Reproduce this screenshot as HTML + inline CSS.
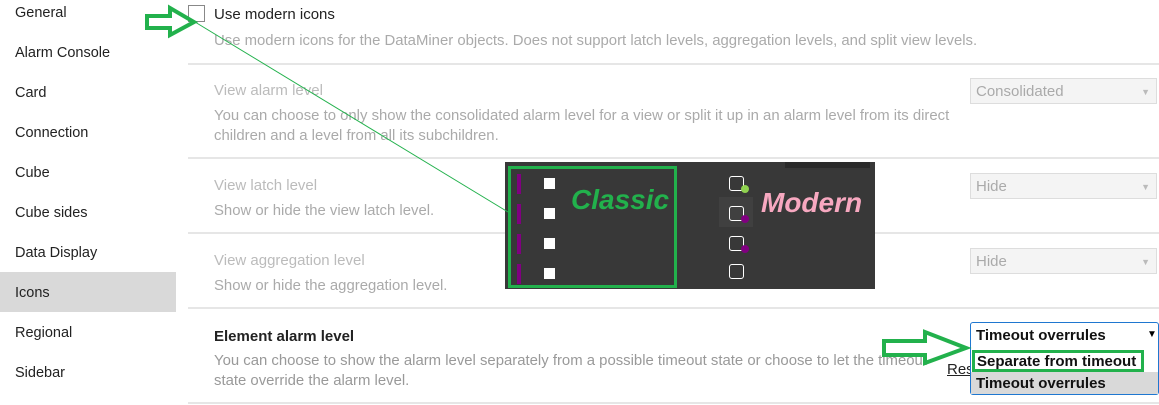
<!DOCTYPE html><html><head><style>
body{margin:0;width:1159px;height:405px;position:relative;overflow:hidden;background:#fff;font-family:"Liberation Sans",sans-serif;}
.a{position:absolute;white-space:nowrap}
.nav{left:15px;font-size:14.5px;color:#222}
.sep{position:absolute;left:188px;width:971px;height:2px;background:#e6e6e6}
.t{font-size:15px;color:#bbb}
.d{font-size:14.9px;color:#aaa;line-height:20px}
.dd{position:absolute;left:970px;width:187px;height:26px;border:1px solid #ddd;background:#f4f4f4;color:#aaa;font-size:15px;line-height:26px;padding-left:5px;box-sizing:border-box}
.dd:after{content:"▼";position:absolute;right:6px;font-size:9px;color:#bbb}
</style></head><body>
<div class="a" style="left:0;top:272px;width:176px;height:40px;background:#d9d9d9"></div>
<div class="a nav" style="top:5px">General</div>
<div class="a nav" style="top:45px">Alarm Console</div>
<div class="a nav" style="top:85px">Card</div>
<div class="a nav" style="top:125px">Connection</div>
<div class="a nav" style="top:165px">Cube</div>
<div class="a nav" style="top:205px">Cube sides</div>
<div class="a nav" style="top:245px">Data Display</div>
<div class="a nav" style="top:285px">Icons</div>
<div class="a nav" style="top:325px">Regional</div>
<div class="a nav" style="top:365px">Sidebar</div>

<div class="a" style="left:188px;top:5px;width:17px;height:17px;border:1px solid #888;box-sizing:border-box;background:#fff"></div>
<div class="a" style="left:214px;top:6px;font-size:15px;color:#222">Use modern icons</div>
<div class="a d" style="left:214px;top:31px">Use modern icons for the DataMiner objects. Does not support latch levels, aggregation levels, and split view levels.</div>
<div class="sep" style="top:63px"></div>
<div class="a t" style="left:214px;top:82px">View alarm level</div>
<div class="a d" style="left:214px;top:106px">You can choose to only show the consolidated alarm level for a view or split it up in an alarm level from its direct<br>children and a level from all its subchildren.</div>
<div class="dd" style="top:78px">Consolidated</div>
<div class="sep" style="top:157px"></div>
<div class="a t" style="left:214px;top:177px">View latch level</div>
<div class="a d" style="left:214px;top:201px">Show or hide the view latch level.</div>
<div class="dd" style="top:173px">Hide</div>
<div class="sep" style="top:232px"></div>
<div class="a t" style="left:214px;top:252px">View aggregation level</div>
<div class="a d" style="left:214px;top:276px">Show or hide the aggregation level.</div>
<div class="dd" style="top:248px">Hide</div>
<div class="sep" style="top:307px"></div>
<div class="a" style="left:214px;top:328px;font-size:15px;font-weight:bold;color:#222">Element alarm level</div>
<div class="a d" style="left:214px;top:351px;color:#999">You can choose to show the alarm level separately from a possible timeout state or choose to let the timeout<br>state override the alarm level.</div>
<div class="a" style="left:947px;top:361px;font-size:15px;color:#222;text-decoration:underline">Res</div>
<div class="sep" style="top:402px"></div>

<div class="a" style="left:970px;top:322px;width:189px;height:73px;border:1px solid #1f77d0;border-radius:3px;background:#fff;box-sizing:border-box"></div>
<div class="a" style="left:976px;top:327px;font-size:15px;font-weight:bold;color:#111">Timeout overrules</div>
<div class="a" style="left:1147px;top:329px;font-size:10px">▼</div>
<div class="a" style="left:971px;top:372px;width:187px;height:22px;background:#d9d9d9"></div>
<div class="a" style="left:976px;top:375px;font-size:15px;font-weight:bold;color:#111">Timeout overrules</div>
<div class="a" style="left:972px;top:350px;width:172px;height:22px;border:3px solid #22b14c;box-sizing:border-box"></div>
<div class="a" style="left:977px;top:353px;font-size:15px;font-weight:bold;color:#111">Separate from timeout</div>

<div class="a" style="left:505px;top:162px;width:370px;height:127px;background:#383838"></div>
<div class="a" style="left:785px;top:162px;width:85px;height:6px;background:#2a2a2a"></div>
<div class="a" style="left:508px;top:166px;width:169px;height:122px;border:3px solid #22b14c;box-sizing:border-box"></div>
<div class="a" style="left:517px;top:174px;width:4px;height:20px;background:#800080"></div>
<div class="a" style="left:517px;top:204px;width:4px;height:20px;background:#800080"></div>
<div class="a" style="left:517px;top:234px;width:4px;height:20px;background:#800080"></div>
<div class="a" style="left:517px;top:264px;width:4px;height:20px;background:#800080"></div>
<div class="a" style="left:544px;top:178px;width:11px;height:11px;background:#fff"></div>
<div class="a" style="left:544px;top:208px;width:11px;height:11px;background:#fff"></div>
<div class="a" style="left:544px;top:238px;width:11px;height:11px;background:#fff"></div>
<div class="a" style="left:544px;top:268px;width:11px;height:11px;background:#fff"></div>
<div class="a" style="left:571px;top:184px;font-size:28px;font-weight:bold;font-style:italic;color:#22b14c">Classic</div>
<div class="a" style="left:719px;top:197px;width:34px;height:30px;background:#404040"></div>
<div class="a" style="left:729px;top:176px;width:13px;height:13px;border:1.5px solid #fff;border-radius:3px"></div>
<div class="a" style="left:741px;top:185px;width:8px;height:8px;border-radius:50%;background:#8fd14f"></div>
<div class="a" style="left:729px;top:206px;width:13px;height:13px;border:1.5px solid #fff;border-radius:3px"></div>
<div class="a" style="left:741px;top:215px;width:8px;height:8px;border-radius:50%;background:#800080"></div>
<div class="a" style="left:729px;top:236px;width:13px;height:13px;border:1.5px solid #fff;border-radius:3px"></div>
<div class="a" style="left:741px;top:245px;width:8px;height:8px;border-radius:50%;background:#800080"></div>
<div class="a" style="left:729px;top:264px;width:13px;height:13px;border:1.5px solid #fff;border-radius:3px"></div>
<div class="a" style="left:761px;top:187px;font-size:28px;font-weight:bold;font-style:italic;color:#f7a8c0">Modern</div>

<svg class="a" style="left:0;top:0" width="1159" height="405">
<line x1="195" y1="22" x2="508" y2="212" stroke="#22b14c" stroke-width="1"/>
<polygon points="147,16 170,16 170,8 194,22 170,35 170,28 147,28" fill="none" stroke="#22b14c" stroke-width="4"/>
<polygon points="884,341 925,341 925,332 966,348 925,363 925,355 884,355" fill="none" stroke="#22b14c" stroke-width="4"/>
</svg>
</body></html>
